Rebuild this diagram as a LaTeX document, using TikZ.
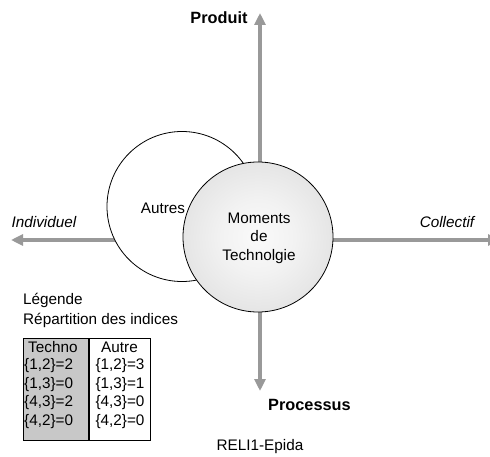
\documentclass[tikz,border=0pt]{standalone}
\usepackage{fontspec}
\setmainfont{Liberation Sans}
\usetikzlibrary{arrows.meta}
\definecolor{axisgray}{HTML}{999999}
\definecolor{boxgray}{HTML}{C8C8C8}
\pgfdeclareradialshading{momshade}{\pgfpoint{0bp}{0bp}}{color(0bp)=(black!2); color(12bp)=(black!5); color(50bp)=(black!20)}
\tikzset{
  axis/.style={draw=axisgray, line width=4pt, -{Triangle[width=11pt,length=12pt]}, axisgray},
  lbl/.style={font=\fontsize{15.3}{17}\selectfont, inner sep=0pt},
  boldlbl/.style={font=\fontsize{16.3}{18}\selectfont\bfseries, inner sep=0pt},
  itlbl/.style={font=\fontsize{15.3}{17}\selectfont\itshape, inner sep=0pt},
  circ/.style={draw=black, line width=0.8pt, circle, minimum size=150pt, inner sep=0pt},
  cell/.style={draw=black, line width=0.8pt, rectangle, inner sep=0pt, anchor=north west}
}
\begin{document}
\begin{tikzpicture}[x=1pt,y=-1pt]
\useasboundingbox (0,0) rectangle (490,457);
\clip (0,0) rectangle (490,457);
% axes
\coordinate (c) at (260,240);
\coordinate (top) at (260,13);
\coordinate (bot) at (260,391);
\coordinate (left) at (11,240);
\coordinate (right) at (500,240);
\draw[axis] (c) -- (top);
\draw[axis] (c) -- (bot);
\draw[axis] (c) -- (left);
\draw[axis] (c) -- (right);
% circles
\node[circ, fill=white] (autres) at (182,206.5) {};
\node[lbl] (autrestxt) at (163,208) {Autres};
\node[circ, shading=momshade] (moments) at (258,237) {};
\node[lbl, align=center, font=\fontsize{15.3}{18.5}\selectfont] (momtxt) at (259,238) {Moments\\de\\Technolgie};
% axis labels
\node[boldlbl] (produit) at (219,18) {Produit};
\node[boldlbl, anchor=west] (processus) at (268,405) {Processus};
\node[itlbl] (indiv) at (44,222) {Individuel};
\node[itlbl] (coll) at (447,222) {Collectif};
\node[lbl] (reli) at (260,447) {RELI1-Epida};
% legend
\node[lbl, anchor=west] (leg) at (23,300) {Légende};
\node[lbl, anchor=west] (rep) at (23,320) {Répartition des indices};
\node[cell, fill=boxgray, minimum width=65pt, minimum height=102pt] (techbox) at (23,338) {};
\node[cell, fill=white, minimum width=61pt, minimum height=102pt] (autrebox) at (88.5,338) {};
\node[lbl, anchor=west] (t0) at (28,347) {Techno};
\node[lbl, anchor=west] (t1) at (24,366) {\{1,2\}=2};
\node[lbl, anchor=west] (t2) at (24,384.5) {\{1,3\}=0};
\node[lbl, anchor=west] (t3) at (24,403) {\{4,3\}=2};
\node[lbl, anchor=west] (t4) at (24,421.5) {\{4,2\}=0};
\node[lbl] (a0) at (119.5,347) {Autre};
\node[lbl] (a1) at (120,366) {\{1,2\}=3};
\node[lbl] (a2) at (120,384.5) {\{1,3\}=1};
\node[lbl] (a3) at (120,403) {\{4,3\}=0};
\node[lbl] (a4) at (120,421.5) {\{4,2\}=0};
\end{tikzpicture}
\end{document}
